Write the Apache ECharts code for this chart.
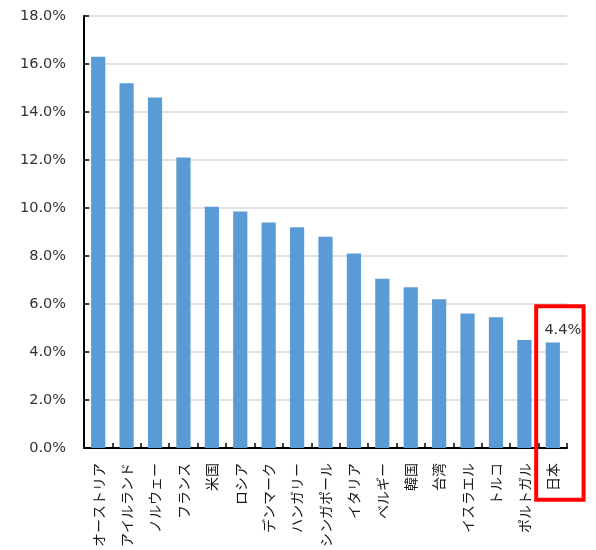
<!DOCTYPE html>
<html>
<head>
<meta charset="utf-8">
<script src="https://cdn.jsdelivr.net/npm/echarts@6/dist/echarts.min.js"></script>
<style>
  html, body { margin: 0; padding: 0; background: #fff; }
  #chart { width: 596px; height: 550px; }
</style>
</head>
<body>
<div id="chart"></div>
<script>
// Countries, ordered by share (%)
const countries = [
  'オーストリア', 'アイルランド', 'ノルウェー', 'フランス', '米国', 'ロシア',
  'デンマーク', 'ハンガリー', 'シンガポール', 'イタリア', 'ベルギー', '韓国',
  '台湾', 'イスラエル', 'トルコ', 'ポルトガル', '日本'
];
const shares = [
  16.3, 15.2, 14.6, 12.1, 10.05, 9.85,
  9.4, 9.2, 8.8, 8.1, 7.05, 6.7,
  6.2, 5.6, 5.45, 4.5, 4.4
];
// Value range of the percentage axis
const axisMin = 0;
const axisMax = 18;
const axisStep = 2;
// Country that gets a value label and a highlight frame
const highlight = '日本';

const chart = echarts.init(document.getElementById('chart'), null, { renderer: 'canvas' });

const fmt = v => v.toFixed(1) + '%';

chart.setOption({
  animation: false,
  grid: { left: 84, right: 29, top: 16, bottom: 100, containLabel: false },
  xAxis: {
    type: 'category',
    data: countries,
    axisLine: { lineStyle: { color: '#000', width: 2 } },
    axisTick: { show: true, inside: true, length: 5, alignWithLabel: false, lineStyle: { color: '#000', width: 1.5 } },
    axisLabel: {
      rotate: 90,
      interval: 0,
      margin: 15,
      color: '#1a1a1a',
      fontSize: 14,
      fontFamily: '"Noto Sans CJK JP", sans-serif'
    },
    splitLine: { show: false }
  },
  yAxis: {
    type: 'value',
    min: axisMin,
    max: axisMax,
    interval: axisStep,
    axisLine: { show: true, lineStyle: { color: '#000', width: 2 } },
    axisTick: { show: true, inside: true, length: 5, lineStyle: { color: '#000', width: 1.5 } },
    axisLabel: {
      formatter: v => fmt(v),
      margin: 18,
      color: '#333',
      fontSize: 14.5,
      fontFamily: '"DejaVu Sans", sans-serif'
    },
    splitLine: { show: true, lineStyle: { color: '#d9d9d9', width: 1.5 } }
  },
  series: [{
    type: 'bar',
    barWidth: '50%',
    data: shares.map((v, i) => ({
      value: v,
      label: countries[i] === highlight ? {
        show: true,
        position: 'top',
        distance: 5,
        offset: [10, 0],
        formatter: p => fmt(p.value),
        color: '#333',
        fontSize: 14.5,
        fontFamily: '"DejaVu Sans", sans-serif'
      } : { show: false }
    })),
    itemStyle: { color: '#5b9bd5' }
  }]
});

// Red frame around the highlighted country's bar and its axis label
const cx = chart.convertToPixel({ xAxisIndex: 0 }, highlight);
chart.setOption({
  graphic: [{
    type: 'rect',
    shape: { x: cx - 16.6, y: 306.3, width: 47.4, height: 193.4 },
    style: { fill: 'none', stroke: '#ff0000', lineWidth: 4 },
    z: 100
  }]
});
</script>
</body>
</html>
